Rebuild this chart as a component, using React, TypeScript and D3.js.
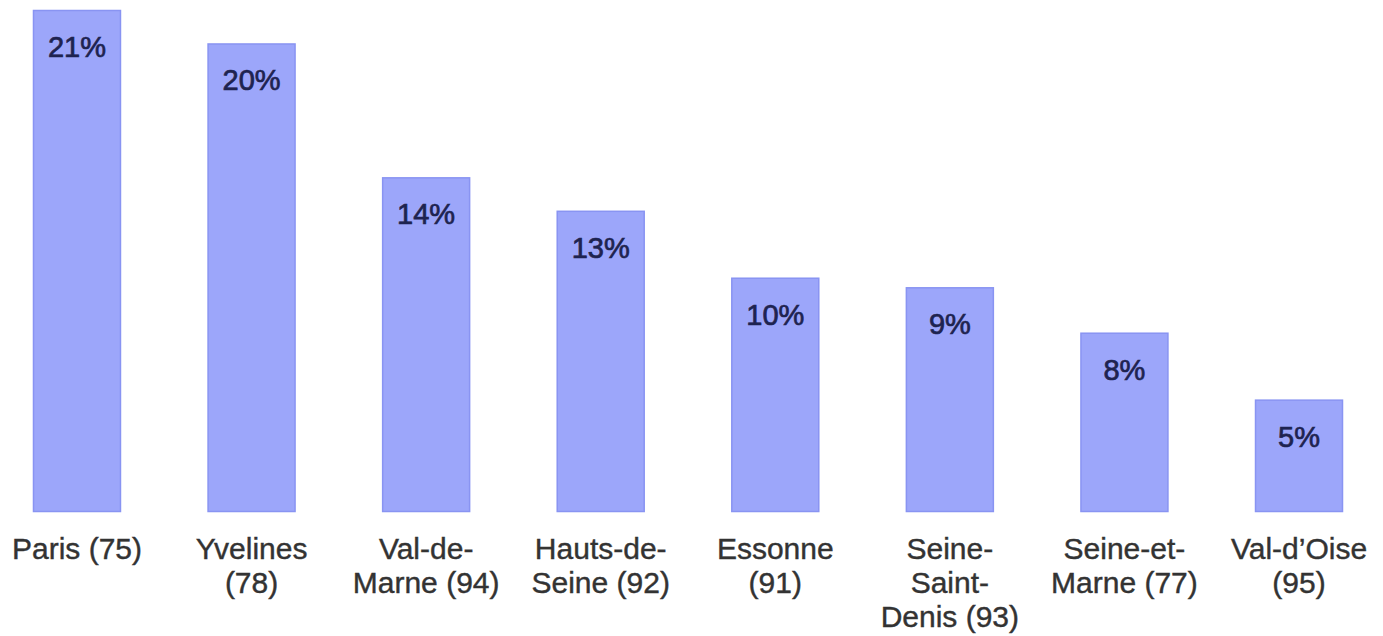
import React from "react";
import * as d3 from "d3";

const categories = [
  "Paris (75)",
  "Yvelines (78)",
  "Val-de-Marne (94)",
  "Hauts-de-Seine (92)",
  "Essonne (91)",
  "Seine-Saint-Denis (93)",
  "Seine-et-Marne (77)",
  "Val-d'Oise (95)",
];
const categoryLines = [
  ["Paris (75)"],
  ["Yvelines", "(78)"],
  ["Val-de-", "Marne (94)"],
  ["Hauts-de-", "Seine (92)"],
  ["Essonne", "(91)"],
  ["Seine-", "Saint-", "Denis (93)"],
  ["Seine-et-", "Marne (77)"],
  ["Val-d\u2019Oise", "(95)"],
];
const values = [21.0, 19.6, 14.0, 12.6, 9.8, 9.4, 7.5, 4.7];
const valueLabels = ["21%", "20%", "14%", "13%", "10%", "9%", "8%", "5%"];

const W = 1383;
const H = 636;
const baseY = 512;
const topY = 10;

export default function App() {
  const x = d3
    .scaleBand<string>()
    .domain(categories)
    .range([-10.3, 1386.3])
    .paddingInner(0.496)
    .paddingOuter(0.248);
  const y = d3.scaleLinear().domain([0, 21]).range([baseY, topY]);

  return (
    <svg
      width={W}
      height={H}
      style={{ position: "absolute", left: 0, top: 0, background: "#fff" }}
      fontFamily="Liberation Sans, Arial, sans-serif"
    >
      {categories.map((c, i) => {
        const bx = x(c)!;
        const bw = x.bandwidth();
        const cx = bx + bw / 2;
        return (
          <g key={c}>
            <rect
              x={bx + 0.5}
              y={y(values[i]) + 0.5}
              width={bw - 1}
              height={baseY - y(values[i]) - 1}
              fill="#9CA6FA"
              stroke="#8994F2"
              strokeWidth={1.5}
            />
            <text
              x={cx}
              y={y(values[i]) + 47}
              textAnchor="middle"
              fontSize={29}
              fill="#1E2350"
              stroke="#1E2350"
              strokeWidth={0.7}
            >
              {valueLabels[i]}
            </text>
            {categoryLines[i].map((ln, j) => (
              <text
                key={j}
                x={cx}
                y={baseY + 47 + j * 34}
                textAnchor="middle"
                fontSize={30}
                fill="#333"
                stroke="#333"
                strokeWidth={0.4}
              >
                {ln}
              </text>
            ))}
          </g>
        );
      })}
    </svg>
  );
}
